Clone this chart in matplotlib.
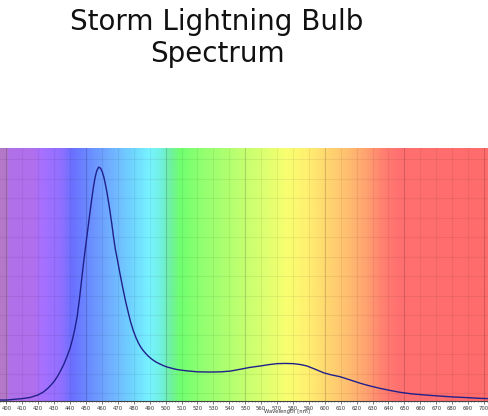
import numpy as np
import matplotlib
matplotlib.use('Agg')
import matplotlib.pyplot as plt
from matplotlib.colors import LinearSegmentedColormap, to_rgb

# ------------------------------------------------------------
# data (relative intensity, peak = 1)
# ------------------------------------------------------------
wavelength = [396, 400, 405, 410, 415, 420, 423.4, 426, 428, 430, 432, 434,
              436, 438, 440, 441.5, 443, 444.5, 446, 447.5, 448.5, 449.5,
              450.6, 451.7, 452.7, 453.8, 454.8, 455.8, 456.8, 458.0, 459.2,
              460.2, 461.2, 462.1, 463.2, 464.3, 465.3, 466.3, 467.3, 468.5,
              469.8, 471.2, 472.8, 474.7, 476.5, 478, 479.7, 481.5, 483,
              484.5, 486, 487.5, 489, 490.5, 492, 494, 496, 498.5, 500.8,
              504, 507, 510, 513.6, 520, 528, 535, 540.6, 546.9, 553, 559.4,
              565, 569.9, 575, 580.3, 585, 588.8, 594, 599.2, 604, 609.6, 616,
              622.2, 628, 634.7, 641, 647.3, 655, 664, 672, 680.8, 690, 697.6,
              703]
intensity = [0.0, 0.0, 0.003, 0.006, 0.011, 0.022, 0.035, 0.05, 0.064, 0.080,
             0.100, 0.125, 0.152, 0.185, 0.222, 0.26, 0.305, 0.36, 0.44, 0.53,
             0.59, 0.645, 0.705, 0.762, 0.815, 0.872, 0.92, 0.958, 0.985, 1.0,
             0.995, 0.98, 0.958, 0.93, 0.89, 0.845, 0.80, 0.752, 0.70, 0.645,
             0.60, 0.548, 0.492, 0.429, 0.377, 0.336, 0.298, 0.266, 0.244,
             0.226, 0.212, 0.200, 0.189, 0.180, 0.172, 0.163, 0.156, 0.148,
             0.142, 0.136, 0.131, 0.128, 0.125, 0.121, 0.12, 0.121, 0.124,
             0.132, 0.14, 0.146, 0.152, 0.156, 0.157, 0.156, 0.152, 0.146,
             0.132, 0.117, 0.108, 0.10, 0.086, 0.072, 0.061, 0.050, 0.041,
             0.033, 0.026, 0.021, 0.017, 0.013, 0.010, 0.007, 0.006]

tick_values = list(range(400, 701, 10))

# background spectrum colours (nm -> colour)
bg_nm = [396, 399.5, 400.5, 417, 421, 434, 441, 450, 465, 480, 490, 497,
         503, 509, 522, 543, 564, 576, 589, 601, 614, 627, 637, 647, 702.5]
bg_col = ['#b478c8', '#b478c8', '#b070e8', '#b070ee', '#a870ff', '#9070ff',
          '#6a70ff', '#6a88ff', '#70b0ff', '#70d8ff', '#78f4ff', '#70f0e0',
          '#70f0a0', '#70ff70', '#90ff70', '#b8ff70', '#e0ff70', '#f8ff70',
          '#fff070', '#ffd870', '#ffc070', '#ffa070', '#ff8070', '#ff7070',
          '#ff6c6c']

x_min, x_max = 396.2, 702.5
y_min, y_max = -0.0043, 1.082

# ------------------------------------------------------------
# figure
# ------------------------------------------------------------
fig = plt.figure(figsize=(4.88, 4.16), dpi=100)
ax = fig.add_axes([0, 15 / 416, 1, 253 / 416])

pos = [(v - bg_nm[0]) / (bg_nm[-1] - bg_nm[0]) for v in bg_nm]
cmap = LinearSegmentedColormap.from_list('spec', list(zip(pos, [to_rgb(c) for c in bg_col])))
grad = np.linspace(0, 1, 600).reshape(1, -1)
ax.imshow(grad, cmap=cmap, aspect='auto', extent=[bg_nm[0], bg_nm[-1], y_min, y_max],
          interpolation='bilinear', zorder=0)

# grid
for v in tick_values:
    ax.axvline(v, color='#000000', alpha=0.16 if v % 50 == 0 else 0.06, lw=0.8, zorder=1)
for k in range(13):
    ax.axhline(0.03 + 0.0837 * k, color='#000000', alpha=0.06, lw=0.8, zorder=1)

ax.plot(wavelength, intensity, color='#20208a', lw=1.0, zorder=3,
        solid_joinstyle='round')

ax.set_xlim(x_min, x_max)
ax.set_ylim(y_min, y_max)
ax.set_yticks([])
ax.set_xticks(tick_values)
ax.set_xticklabels([str(v) for v in tick_values], fontsize=3.8, color='#333333')
ax.set_xticks(np.arange(396, 703, 2), minor=True)
ax.tick_params(axis='x', which='major', length=2, width=0.5, pad=1.5, color='#444444')
ax.tick_params(axis='x', which='minor', length=1, width=0.4, color='#444444')
for s in ['left', 'right', 'top']:
    ax.spines[s].set_visible(False)
ax.spines['bottom'].set_color('#444444')
ax.spines['bottom'].set_linewidth(0.8)

fig.text(287 / 488, 1 - 412 / 416, 'Wavelength [nm]', fontsize=3.8,
         ha='center', va='center', color='#333333')

# title
fig.text(217 / 488, 1 - 30 / 416, 'Storm Lightning Bulb', fontsize=20,
         ha='center', va='baseline', color='#111111')
fig.text(217 / 488, 1 - 62 / 416, 'Spectrum', fontsize=20,
         ha='center', va='baseline', color='#111111')

fig.savefig('out.png', dpi=100)
